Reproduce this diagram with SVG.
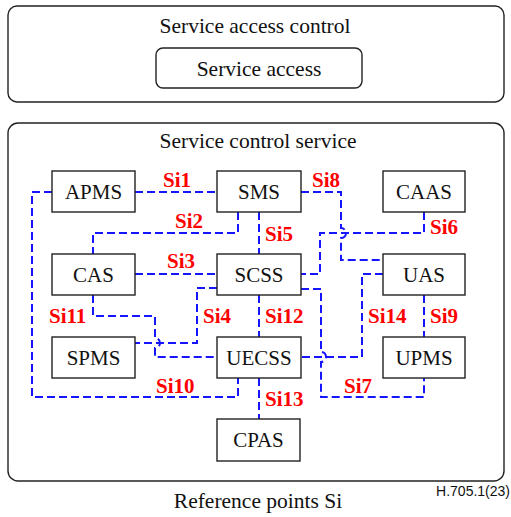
<svg xmlns="http://www.w3.org/2000/svg" width="511" height="517" viewBox="0 0 511 517">
<style>
.frame{fill:#fff;stroke:#222;stroke-width:1.4}
.node{fill:#fff;stroke:#222;stroke-width:1.4}
.t{font-family:"Liberation Serif","Times New Roman",serif;font-size:21px;fill:#111;text-anchor:middle}
.title{font-family:"Liberation Serif","Times New Roman",serif;font-size:21.5px;fill:#111;text-anchor:middle}
.lbl{font-family:"Liberation Serif","Times New Roman",serif;font-size:21px;font-weight:bold;fill:#ff0000}
.c{fill:none;stroke:#1515ff;stroke-width:2;stroke-dasharray:8,4}
</style>
<rect width="511" height="517" fill="#fff"/>
<g id="service-access-control">
<rect class="frame" x="8" y="6" width="496" height="96" rx="9"/>
<text class="title" x="255" y="33">Service access control</text>
</g>
<g id="service-access">
<rect class="node" x="156" y="48" width="206" height="40" rx="7"/>
<text class="title" x="259" y="76">Service access</text>
</g>
<g id="service-control-service">
<rect class="frame" x="8" y="123" width="496" height="358" rx="10"/>
<text class="title" x="258" y="148">Service control service</text>
</g>
<g id="connectors">
<path class="c" d="M135,192 H217"/>
<path class="c" d="M52,192 H32 V397 H238 V378"/>
<path class="c" d="M238,212 V233 H93 V254"/>
<path class="c" d="M259,212 V254"/>
<path class="c" d="M301,192 H341 V228 a5,5 0 0 1 0,10 V260 H383"/>
<path class="c" d="M424,212 V233 H320 V274 H301"/>
<path class="c" d="M135,274 H217"/>
<path class="c" d="M217,288 H197 V343 H135"/>
<path class="c" d="M93,295 V316 H155 V338 a5,5 0 0 1 0,10 V357 H217"/>
<path class="c" d="M259,295 V337"/>
<path class="c" d="M259,378 V419"/>
<path class="c" d="M383,274 H362 V357 H301"/>
<path class="c" d="M424,295 V337"/>
<path class="c" d="M301,289 H321 V352 a5,5 0 0 1 0,10 V397 H424 V378"/>
</g>
<g id="labels">
<text class="lbl" x="163" y="187">Si1</text>
<text class="lbl" x="175" y="228">Si2</text>
<text class="lbl" x="265" y="241">Si5</text>
<text class="lbl" x="312" y="187">Si8</text>
<text class="lbl" x="430" y="234">Si6</text>
<text class="lbl" x="167" y="268">Si3</text>
<text class="lbl" x="203" y="323">Si4</text>
<text class="lbl" x="49" y="323">Si11</text>
<text class="lbl" x="265" y="323">Si12</text>
<text class="lbl" x="368" y="323">Si14</text>
<text class="lbl" x="430" y="323">Si9</text>
<text class="lbl" x="156" y="393">Si10</text>
<text class="lbl" x="344" y="393">Si7</text>
<text class="lbl" x="265" y="406">Si13</text>
</g>
<g id="APMS"><rect class="node" x="52" y="171" width="83" height="41"/><text class="t" x="93.5" y="199">APMS</text></g>
<g id="SMS"><rect class="node" x="217" y="171" width="84" height="41"/><text class="t" x="259" y="199">SMS</text></g>
<g id="CAAS"><rect class="node" x="383" y="171" width="82" height="41"/><text class="t" x="424" y="199">CAAS</text></g>
<g id="CAS"><rect class="node" x="52" y="254" width="83" height="41"/><text class="t" x="93.5" y="282">CAS</text></g>
<g id="SCSS"><rect class="node" x="217" y="254" width="84" height="41"/><text class="t" x="259" y="282">SCSS</text></g>
<g id="UAS"><rect class="node" x="383" y="254" width="82" height="41"/><text class="t" x="424" y="282">UAS</text></g>
<g id="SPMS"><rect class="node" x="52" y="337" width="83" height="41"/><text class="t" x="93.5" y="365">SPMS</text></g>
<g id="UECSS"><rect class="node" x="217" y="337" width="84" height="41"/><text class="t" x="259" y="365">UECSS</text></g>
<g id="UPMS"><rect class="node" x="383" y="337" width="82" height="41"/><text class="t" x="424" y="365">UPMS</text></g>
<g id="CPAS"><rect class="node" x="217" y="419" width="83" height="42"/><text class="t" x="258.5" y="447">CPAS</text></g>
<text class="title" x="258" y="508">Reference points Si</text>
<text x="510" y="496" font-family="Liberation Sans, Arial, sans-serif" font-size="14" fill="#111" text-anchor="end">H.705.1(23)</text>
</svg>
